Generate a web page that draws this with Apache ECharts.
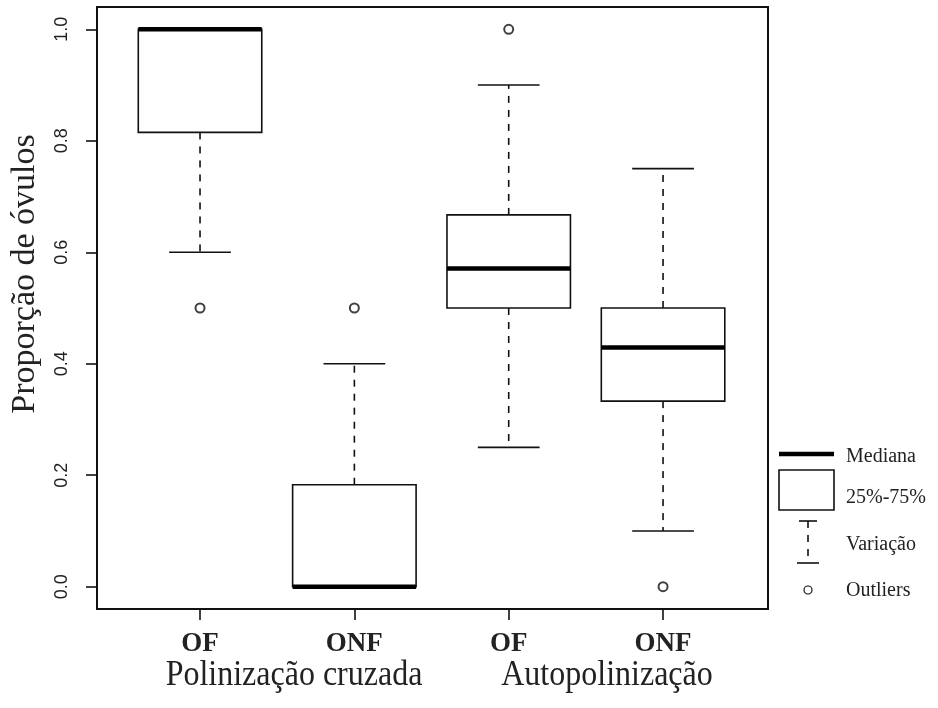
<!DOCTYPE html>
<html>
<head>
<meta charset="utf-8">
<script src="https://cdn.jsdelivr.net/npm/echarts@6/dist/echarts.min.js"></script>
<style>
  html, body { margin: 0; padding: 0; background: #fff; }
  #chart { width: 938px; height: 708px; }
</style>
</head>
<body>
<div id="chart"></div>
<script>
// data
const groups = ['OF', 'ONF', 'OF', 'ONF']
const positions = [1, 2, 3, 4]
const lowerWhisker = [0.6, 0, 0.25, 0.1]
const q1 = [0.815, 0, 0.5, 0.333]
const median = [1.0, 0, 0.571, 0.429]
const q3 = [1.0, 0.183, 0.667, 0.5]
const upperWhisker = [1.0, 0.4, 0.9, 0.75]
const outliers = [[1, 0.5], [2, 0.5], [3, 1.0], [4, 0.0]]
const yTicks = [0, 0.2, 0.4, 0.6, 0.8, 1.0]
const yTitle = 'Proporção de óvulos'
const groupTitles = ['Polinização cruzada', 'Autopolinização']
const legendLabels = ['Mediana', '25%-75%', 'Variação', 'Outliers']

const boxWidth = 0.8
const capWidth = 0.4
const serif = '"Liberation Serif", "DejaVu Serif", serif'
const sans = '"Liberation Sans", Arial, sans-serif'

const boxData = positions.map((p, i) => [p, lowerWhisker[i], q1[i], median[i], q3[i], upperWhisker[i]])

function renderBox(params, api) {
    const x = api.value(0)
    const pLow = api.coord([x, api.value(1)])
    const pQ1 = api.coord([x, api.value(2)])
    const pMed = api.coord([x, api.value(3)])
    const pQ3 = api.coord([x, api.value(4)])
    const pHigh = api.coord([x, api.value(5)])
    const half = api.size([boxWidth, 0])[0] / 2
    const capHalf = api.size([capWidth, 0])[0] / 2
    const cx = pMed[0]
    const line = { stroke: '#111', lineWidth: 1.6 }
    const dash = { stroke: '#111', lineWidth: 1.6, lineDash: [7, 7] }
    const children = []
    // whiskers (dashed) with caps, skipped when they collapse onto the box
    if (pLow[1] !== pQ1[1]) {
        children.push({ type: 'line', shape: { x1: cx, y1: pQ1[1], x2: cx, y2: pLow[1] }, style: dash })
        children.push({ type: 'line', shape: { x1: cx - capHalf, y1: pLow[1], x2: cx + capHalf, y2: pLow[1] }, style: line })
    }
    if (pHigh[1] !== pQ3[1]) {
        children.push({ type: 'line', shape: { x1: cx, y1: pQ3[1], x2: cx, y2: pHigh[1] }, style: dash })
        children.push({ type: 'line', shape: { x1: cx - capHalf, y1: pHigh[1], x2: cx + capHalf, y2: pHigh[1] }, style: line })
    }
    children.push({
        type: 'rect',
        shape: { x: cx - half, y: pQ3[1], width: half * 2, height: pQ1[1] - pQ3[1] },
        style: { fill: '#fff', stroke: '#111', lineWidth: 1.6 },
    })
    children.push({
        type: 'line',
        shape: { x1: cx - half, y1: pMed[1], x2: cx + half, y2: pMed[1] },
        style: { stroke: '#000', lineWidth: 4.5 },
    })
    return { type: 'group', children }
}

const chart = echarts.init(document.getElementById('chart'))

const legendX = 779
const legendFont = '20px ' + serif
chart.setOption({
    backgroundColor: '#fff',
    animation: false,
    grid: {
        left: 97,
        right: 170,
        top: 7,
        bottom: 99,
        show: true,
        borderColor: '#111',
        borderWidth: 2,
    },
    xAxis: {
        type: 'value',
        min: 0.3325,
        max: 4.68,
        axisLine: { show: false, onZero: false },
        splitLine: { show: false },
        axisTick: { show: true, length: 11, lineStyle: { color: '#111', width: 1.6 }, customValues: positions },
        axisLabel: {
            customValues: positions,
            margin: 22,
            fontFamily: serif,
            fontWeight: 'bold',
            fontSize: 27,
            color: '#222',
            formatter: v => groups[Math.round(v) - 1],
        },
    },
    yAxis: {
        type: 'value',
        min: -0.04,
        max: 1.04,
        axisLine: { show: false, onZero: false },
        splitLine: { show: false },
        axisTick: { show: true, length: 11, lineStyle: { color: '#111', width: 1.6 }, customValues: yTicks },
        axisLabel: {
            customValues: yTicks,
            rotate: 90,
            margin: 26,
            fontFamily: sans,
            fontSize: 18,
            color: '#222',
            formatter: v => v.toFixed(1),
        },
    },
    series: [
        {
            type: 'custom',
            renderItem: renderBox,
            encode: { x: 0, y: [1, 2, 3, 4, 5] },
            data: boxData,
            z: 2,
        },
        {
            type: 'scatter',
            data: outliers,
            symbol: 'emptyCircle',
            symbolSize: 9,
            itemStyle: { color: '#111', borderWidth: 1.2 },
            z: 3,
        },
    ],
    graphic: [
        { type: 'text', x: 25, y: 274, rotation: Math.PI / 2, style: { text: yTitle, font: '34px ' + serif, fill: '#222', align: 'center', verticalAlign: 'middle' } },
        { type: 'text', x: 294, y: 676, scaleY: 1.12, style: { text: groupTitles[0], font: '32px ' + serif, fill: '#222', align: 'center', verticalAlign: 'middle' } },
        { type: 'text', x: 607, y: 676, scaleY: 1.12, style: { text: groupTitles[1], font: '32px ' + serif, fill: '#222', align: 'center', verticalAlign: 'middle' } },
        // legend key
        { type: 'line', shape: { x1: legendX, y1: 454, x2: legendX + 55, y2: 454 }, style: { stroke: '#000', lineWidth: 4.5 } },
        { type: 'rect', shape: { x: legendX, y: 470, width: 55, height: 40 }, style: { fill: '#fff', stroke: '#111', lineWidth: 1.6 } },
        { type: 'line', shape: { x1: 799, y1: 521, x2: 817, y2: 521 }, style: { stroke: '#111', lineWidth: 1.6 } },
        { type: 'line', shape: { x1: 808, y1: 521, x2: 808, y2: 563 }, style: { stroke: '#111', lineWidth: 1.6, lineDash: [7, 7] } },
        { type: 'line', shape: { x1: 797, y1: 563, x2: 819, y2: 563 }, style: { stroke: '#111', lineWidth: 1.6 } },
        { type: 'circle', shape: { cx: 808, cy: 590, r: 4 }, style: { fill: '#fff', stroke: '#111', lineWidth: 1.2 } },
        { type: 'text', x: 846, y: 457, style: { text: legendLabels[0], font: legendFont, fill: '#222', verticalAlign: 'middle' } },
        { type: 'text', x: 846, y: 498, style: { text: legendLabels[1], font: legendFont, fill: '#222', verticalAlign: 'middle' } },
        { type: 'text', x: 846, y: 545, style: { text: legendLabels[2], font: legendFont, fill: '#222', verticalAlign: 'middle' } },
        { type: 'text', x: 846, y: 591, style: { text: legendLabels[3], font: legendFont, fill: '#222', verticalAlign: 'middle' } },
    ],
})
</script>
</body>
</html>
